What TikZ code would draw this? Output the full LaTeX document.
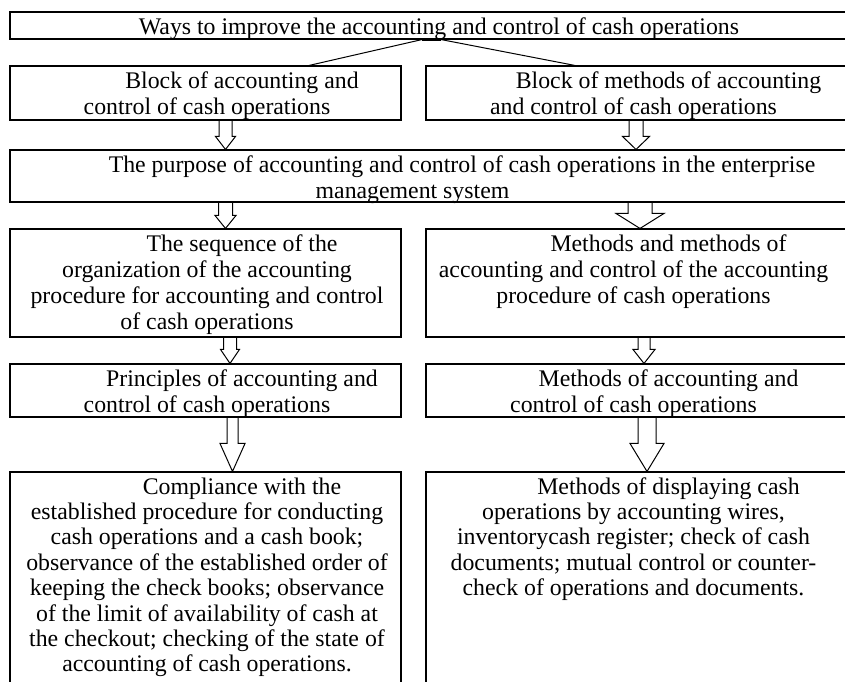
\documentclass[tikz,border=0pt]{standalone}
\usepackage{fontspec}
\setmainfont{Liberation Serif}
\usetikzlibrary{calc}
\newcommand\tf{\fontsize{23.8}{26}\selectfont}
\newcommand\tfb{\fontsize{23.8}{25.4}\selectfont}
\newcommand\fl{\rule{0pt}{22.5pt}}
% block arrow: #1 source node, #2 target node, #3 x, #4 shaft half-width, #5 head half-width, #6 head length
\newcommand\barr[6]{%
  \draw[barrow] ({#3-#4},0 |- #1.south) -- ($({#3-#4},0 |- #2.north)+(0,-#6)$)
    -- ($({#3-#5},0 |- #2.north)+(0,-#6)$) -- (#3,0 |- #2.north)
    -- ($({#3+#5},0 |- #2.north)+(0,-#6)$) -- ($({#3+#4},0 |- #2.north)+(0,-#6)$)
    -- ({#3+#4},0 |- #1.south);}
\begin{document}
\begin{tikzpicture}[x=1pt,y=-1pt,
  box/.style={draw, line width=1.1pt, inner sep=0pt, rectangle},
  txt/.style={font=\tf, align=center, inner sep=0pt, anchor=north},
  txtb/.style={txt, font=\tfb},
  barrow/.style={draw, line width=1pt, line join=miter},
  link/.style={draw, line width=1pt}]
\clip (0,0) rectangle (845,681);
\fill[white] (0,0) rectangle (845,681);
% boxes
\node[box, minimum width=860, minimum height=27] (top) at (440,25.5) {};
\node[box, minimum width=391, minimum height=54] (bL) at (205.5,93) {};
\node[box, minimum width=444, minimum height=54] (bR) at (648,93) {};
\node[box, minimum width=860, minimum height=52] (pur) at (440,176) {};
\node[box, minimum width=391, minimum height=108] (sL) at (205.5,283) {};
\node[box, minimum width=444, minimum height=108] (sR) at (648,283) {};
\node[box, minimum width=391, minimum height=53] (pL) at (205.5,390.5) {};
\node[box, minimum width=444, minimum height=53] (mR) at (648,390.5) {};
\node[box, minimum width=391, minimum height=248] (cL) at (205.5,596) {};
\node[box, minimum width=444, minimum height=248] (cR) at (648,596) {};
% texts
\node[txt] (t0) at (439,0 |- top.north) {\fl Ways to improve the accounting and control of cash operations};
\node[txt] (t1) at (207,0 |- bL.north) {\fl\hspace*{70pt}Block of accounting and\\control of cash operations};
\node[txt] (t2) at (633.5,0 |- bR.north) {\fl\hspace*{70pt}Block of methods of accounting\\and control of cash operations};
\node[txt] (t3) at (412.5,0 |- pur.north) {\fl\hspace*{99pt}The purpose of accounting and control of cash operations in the enterprise\\management system};
\node[txt] (t4) at (207,0 |- sL.north) {\fl\hspace*{70pt}The sequence of the\\organization of the accounting\\procedure for accounting and control\\of cash operations};
\node[txt] (t5) at (633.5,0 |- sR.north) {\fl\hspace*{70pt}Methods and methods of\\accounting and control of the accounting\\procedure of cash operations};
\node[txt] (t6) at (207,0 |- pL.north) {\fl\hspace*{70pt}Principles of accounting and\\control of cash operations};
\node[txt] (t7) at (633.5,0 |- mR.north) {\fl\hspace*{70pt}Methods of accounting and\\control of cash operations};
\node[txtb] (t8) at (207,0 |- cL.north) {\fl\hspace*{70pt}Compliance with the\\established procedure for conducting\\cash operations and a cash book;\\observance of the established order of\\keeping the check books; observance\\of the limit of availability of cash at\\the checkout; checking of the state of\\accounting of cash operations.};
\node[txtb] (t9) at (633.5,0 |- cR.north) {\fl\hspace*{70pt}Methods of displaying cash\\operations by accounting wires,\\inventorycash register; check of cash\\documents; mutual control or counter-\\check of operations and documents.};
% links from the top box
\draw[link] (422,0 |- top.south) -- (309,0 |- bL.north);
\draw[link] (441,0 |- top.south) -- (575,0 |- bR.north);
\draw[line width=2.2pt] (422,0 |- top.south) -- (441,0 |- top.south);
% block arrows
\barr{bL}{pur}{225.5}{6.5}{10}{13}
\barr{bR}{pur}{636}{7}{13.5}{13}
\barr{pur}{sL}{225.5}{7}{10.5}{13}
\barr{pur}{sR}{640}{12}{24}{15}
\barr{sL}{pL}{230}{6.5}{9.5}{14}
\barr{sR}{mR}{644}{6}{11}{14}
\barr{pL}{cL}{232.5}{5.5}{12.5}{28}
\barr{mR}{cR}{647}{9}{17}{28}
\end{tikzpicture}
\end{document}
